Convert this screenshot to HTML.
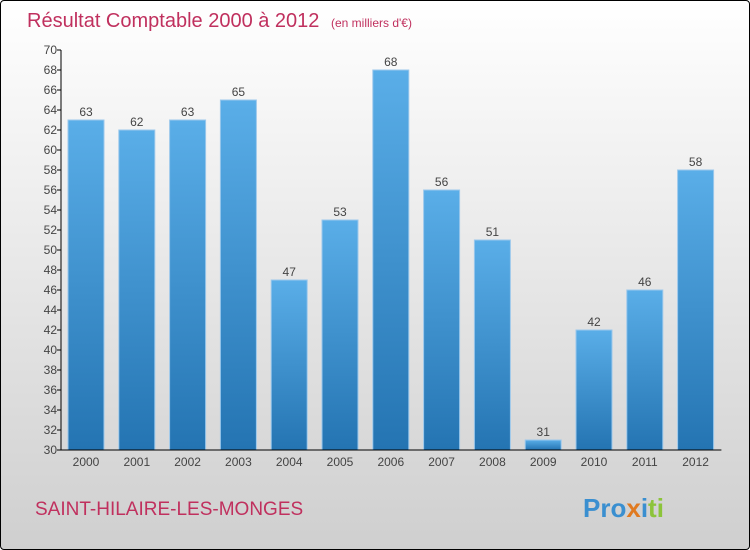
<!DOCTYPE html>
<html><head><meta charset="utf-8"><style>
body{margin:0}
#c{width:750px;height:550px;position:relative;box-sizing:border-box;border:1px solid #000;border-radius:4px;background:linear-gradient(#ffffff,#cfcfcf);font-family:"Liberation Sans",sans-serif;overflow:hidden}
</style></head><body>
<div id="c">
<svg width="750" height="550" id="svg" style="position:absolute;left:-1px;top:-1px">
<defs><linearGradient id="bg" x1="0" y1="0" x2="0" y2="1"><stop offset="0" stop-color="#5aaee8"/><stop offset="1" stop-color="#2474b2"/></linearGradient></defs>
<text x="27" y="27" font-size="20" fill="#c0305e">Résultat Comptable 2000 à 2012 <tspan font-size="12" dx="6">(en milliers d'€)</tspan></text>
<text x="35" y="515" font-size="19" fill="#c0305e">SAINT-HILAIRE-LES-MONGES</text>
<text x="583" y="517" font-size="26" font-weight="bold"><tspan fill="#3a8fd0">Pro</tspan><tspan fill="#e07a20">x</tspan><tspan fill="#3a8fd0">i</tspan><tspan fill="#8cc43a">ti</tspan></text>
<g id="plot"></g>
</svg>
</div>
<script>
const categories=["2000","2001","2002","2003","2004","2005","2006","2007","2008","2009","2010","2011","2012"];
const values=[63,62,63,65,47,53,68,56,51,31,42,46,58];
const yTicks=[30,32,34,36,38,40,42,44,46,48,50,52,54,56,58,60,62,64,66,68,70];
const yMin=30,yMax=70,plotTop=50,plotBot=450,plotLeft=61,band=50.8;
const yS=v=>plotBot-(v-yMin)/(yMax-yMin)*(plotBot-plotTop);
const xS=i=>plotLeft+i*band;
const g=document.getElementById('plot');
const NS='http://www.w3.org/2000/svg';
function mk(t,a){const e=document.createElementNS(NS,t);for(const k in a)e.setAttribute(k,a[k]);g.appendChild(e);return e;}
values.forEach((v,i)=>{
 const r=mk('rect',{x:xS(i)+7,y:yS(v),width:36,height:plotBot-yS(v),fill:'url(#bg)',stroke:'#9cc8ec','stroke-width':1});
 
 
 const t=mk('text',{x:xS(i)+25,y:yS(v)-4,'font-size':12,fill:'#444','text-anchor':'middle'});
 t.textContent=v;
 
 
 const c=mk('text',{x:xS(i)+25,y:plotBot+16,'font-size':12,fill:'#444','text-anchor':'middle'});
 c.textContent=categories[i];
 
 
});
yTicks.forEach(v=>{
 const l=mk('line',{x1:plotLeft-4,x2:plotLeft,y1:yS(v),y2:yS(v),stroke:'#000'});
 
 
 const t=mk('text',{x:plotLeft-4,y:yS(v)+4,'font-size':12,fill:'#444','text-anchor':'end'});
 t.textContent=v;
 
 
});
const ya=mk('line',{x1:plotLeft,x2:plotLeft,y1:plotTop,y2:plotBot,stroke:'#000'});


const xa=mk('line',{x1:plotLeft,x2:plotLeft+13*band,y1:plotBot,y2:plotBot,stroke:'#000'});


</script>
</body></html>
